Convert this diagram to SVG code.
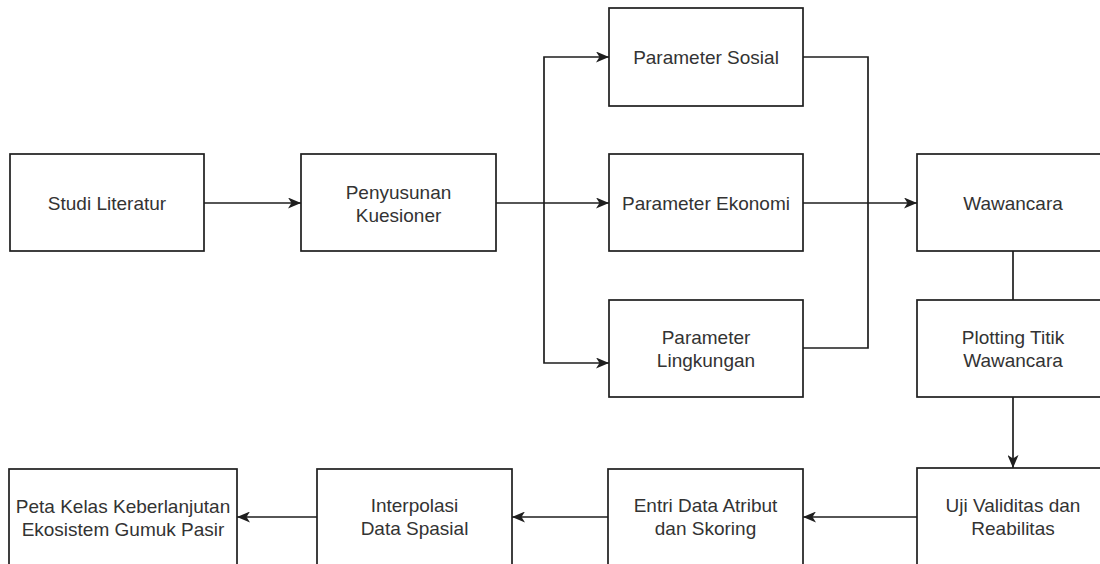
<svg xmlns="http://www.w3.org/2000/svg" width="1100" height="564" viewBox="0 0 1100 564">
<style>
.box{fill:#ffffff;stroke:#1e1e1e;stroke-width:1.7}
.lbl{font-family:"Liberation Sans",Arial,sans-serif;font-size:19px;fill:#333333;text-anchor:middle}
.con{fill:none;stroke:#1e1e1e;stroke-width:1.7}
</style>
<defs>
<marker id="arr" viewBox="0 0 13 11" refX="13" refY="5.5" markerWidth="13" markerHeight="11" markerUnits="userSpaceOnUse" orient="auto">
<path d="M0,0 L13,5.5 L0,11 L3.5,5.5 z" fill="#1e1e1e"/>
</marker>
</defs>
<rect width="1100" height="564" fill="#ffffff"/>
<g id="connectors">
<path class="con" d="M204,203 H301" marker-end="url(#arr)"/>
<path class="con" d="M496,203 H609" marker-end="url(#arr)"/>
<path class="con" d="M544,203 V57 H609" marker-end="url(#arr)"/>
<path class="con" d="M544,203 V363 H609" marker-end="url(#arr)"/>
<path class="con" d="M803,203 H917" marker-end="url(#arr)"/>
<path class="con" d="M803,57 H868 V203"/>
<path class="con" d="M803,348 H868 V203"/>
<path class="con" d="M1013,251 V300"/>
<path class="con" d="M1013,397 V468" marker-end="url(#arr)"/>
<path class="con" d="M917,517 H803" marker-end="url(#arr)"/>
<path class="con" d="M608,517 H512" marker-end="url(#arr)"/>
<path class="con" d="M317,517 H237" marker-end="url(#arr)"/>
</g>
<g id="studi-literatur">
<rect class="box" x="10" y="154" width="194" height="97"/>
<text class="lbl" x="107" y="210">Studi Literatur</text>
</g>
<g id="penyusunan-kuesioner">
<rect class="box" x="301" y="154" width="195" height="97"/>
<text class="lbl" x="398.5" y="198.5">Penyusunan</text>
<text class="lbl" x="398.5" y="221.5">Kuesioner</text>
</g>
<g id="parameter-sosial">
<rect class="box" x="609" y="8" width="194" height="98"/>
<text class="lbl" x="706" y="63.5">Parameter Sosial</text>
</g>
<g id="parameter-ekonomi">
<rect class="box" x="609" y="154" width="194" height="97"/>
<text class="lbl" x="706" y="210">Parameter Ekonomi</text>
</g>
<g id="parameter-lingkungan">
<rect class="box" x="609" y="300" width="194" height="97"/>
<text class="lbl" x="706" y="343.5">Parameter</text>
<text class="lbl" x="706" y="366.5">Lingkungan</text>
</g>
<g id="wawancara">
<rect class="box" x="917" y="154" width="193" height="97"/>
<text class="lbl" x="1013" y="210">Wawancara</text>
</g>
<g id="plotting-titik-wawancara">
<rect class="box" x="917" y="300" width="193" height="97"/>
<text class="lbl" x="1013" y="343.5">Plotting Titik</text>
<text class="lbl" x="1013" y="366.5">Wawancara</text>
</g>
<g id="uji-validitas">
<rect class="box" x="917" y="468" width="193" height="98"/>
<text class="lbl" x="1013" y="511.5">Uji Validitas dan</text>
<text class="lbl" x="1013" y="534.5">Reabilitas</text>
</g>
<g id="entri-data">
<rect class="box" x="608" y="469" width="195" height="97"/>
<text class="lbl" x="705.5" y="511.5">Entri Data Atribut</text>
<text class="lbl" x="705.5" y="534.5">dan Skoring</text>
</g>
<g id="interpolasi">
<rect class="box" x="317" y="469" width="195" height="97"/>
<text class="lbl" x="414.5" y="511.5">Interpolasi</text>
<text class="lbl" x="414.5" y="534.5">Data Spasial</text>
</g>
<g id="peta-kelas">
<rect class="box" x="9" y="469" width="228" height="97"/>
<text class="lbl" x="123" y="513">Peta Kelas Keberlanjutan</text>
<text class="lbl" x="123" y="536">Ekosistem Gumuk Pasir</text>
</g>
</svg>
